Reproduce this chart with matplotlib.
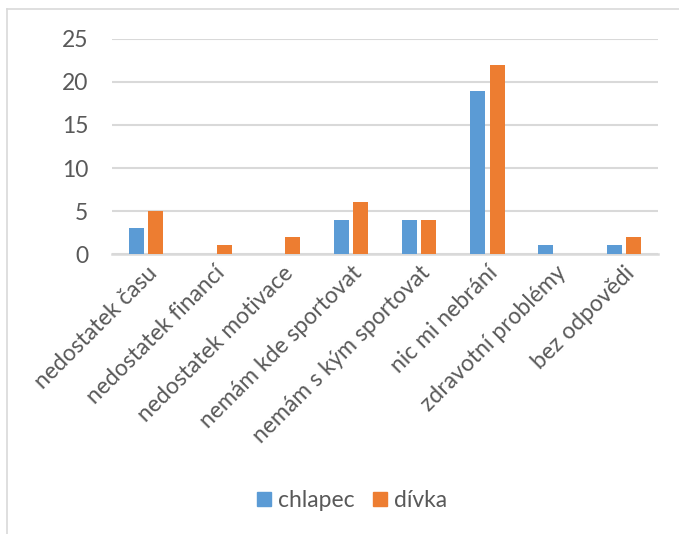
import numpy as np
import matplotlib
matplotlib.use('Agg')
import matplotlib.pyplot as plt
from matplotlib.lines import Line2D

plt.rcParams['font.family'] = ['Lato', 'DejaVu Sans']

# Data
categories = ['nedostatek času', 'nedostatek financí', 'nedostatek motivace',
              'nemám kde sportovat', 'nemám s kým sportovat', 'nic mi nebrání',
              'zdravotní problémy', 'bez odpovědi']
chlapec = [3, 0, 0, 4, 4, 19, 1, 1]
divka = [5, 1, 2, 6, 4, 22, 0, 2]
series_names = ['chlapec', 'dívka']
yticks = [0, 5, 10, 15, 20, 25]

blue = '#5B9BD5'
orange = '#ED7D31'
grey_text = '#595959'
grid_col = '#D9D9D9'

fig = plt.figure(figsize=(6.79, 5.34), dpi=100)
ax = fig.add_axes([0.165, 0.5243, 0.804, 0.4027])

x = np.arange(len(categories))
w = 0.22
ax.bar(x - 0.143, chlapec, width=w, color=blue, label=series_names[0], zorder=3)
ax.bar(x + 0.143, divka, width=w, color=orange, label=series_names[1], zorder=3)

ax.set_xlim(-0.5, len(categories) - 0.5)
ax.set_ylim(0, 25)
ax.set_yticks(yticks)
ax.yaxis.grid(True, color=grid_col, linewidth=1.5, zorder=0)
ax.set_axisbelow(True)

for s in ['top', 'right', 'left']:
    ax.spines[s].set_visible(False)
ax.spines['bottom'].set_color(grid_col)
ax.spines['bottom'].set_linewidth(1.8)

ax.tick_params(axis='y', length=0, pad=17, labelsize=16.5, labelcolor=grey_text)
ax.tick_params(axis='x', length=0, pad=6, labelsize=16.5, labelcolor=grey_text)
ax.set_xticks(x)
ax.set_xticklabels(categories, rotation=45, ha='right', rotation_mode='anchor')

# legend
handles = [Line2D([], [], marker='s', linestyle='none', markersize=10, color=blue),
           Line2D([], [], marker='s', linestyle='none', markersize=10, color=orange)]
leg = fig.legend(handles, series_names, loc='center', bbox_to_anchor=(0.515, 0.063),
                 ncol=2, frameon=False, fontsize=16.5, handletextpad=0.1,
                 columnspacing=0.6, labelcolor=grey_text, handlelength=1.0)

# chart border (left and top visible)
fig.add_artist(Line2D([6.5 / 679, 6.5 / 679], [0, 1 - 9 / 534], color=grid_col,
                      linewidth=1.2, transform=fig.transFigure))
fig.add_artist(Line2D([6.5 / 679, 1], [1 - 9 / 534, 1 - 9 / 534], color=grid_col,
                      linewidth=1.2, transform=fig.transFigure))

fig.savefig('out.png', dpi=100)
